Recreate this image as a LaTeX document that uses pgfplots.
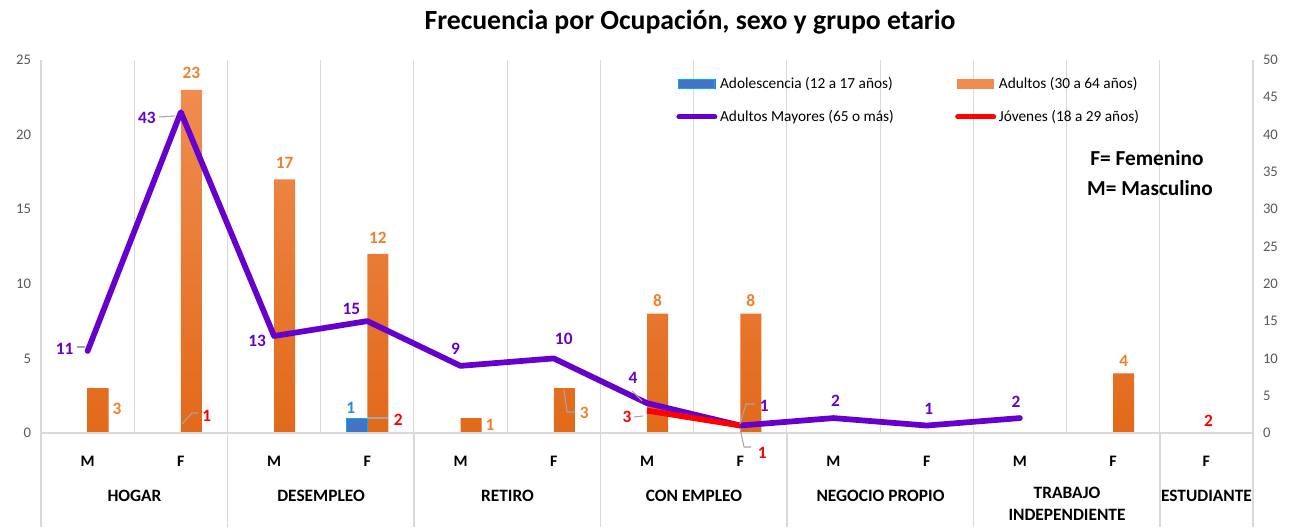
\documentclass[border=0pt]{standalone}
\usepackage{pgfplots}
\pgfplotsset{compat=1.18}
\usepackage{pgfplotstable}
\usepackage{fontspec}
\setmainfont{Carlito}
\definecolor{orTop}{HTML}{F08C50}
\definecolor{orBot}{HTML}{E2691A}
\definecolor{orLab}{HTML}{F08030}
\definecolor{blFill}{HTML}{4472C4}
\definecolor{blEdge}{HTML}{00B0F0}
\definecolor{blLab}{HTML}{1E90DC}
\definecolor{purp}{HTML}{6600CC}
\definecolor{redl}{HTML}{FF0000}
\definecolor{tickgray}{HTML}{595959}
\definecolor{gridc}{HTML}{D9D9D9}
\definecolor{leader}{HTML}{A6A6A6}

\pgfplotstableread{
x y dx dy
0 3 29.5 21
1 23 10.5 -17
2 17 10.5 -16
3 12 10.5 -16
4 1 29.5 7
5 3 30.5 25
6 8 10.5 -13
7 8 10.5 -13
11 4 10.5 -12
}\adultos
\pgfplotstableread{
x y dx dy
3 1 -16.5 -10
}\adolesc
\pgfplotstableread{
x y dx dy
0 11 -23 -2
1 43 -34 6
2 13 -17 5
3 15 -16 -12
4 9 -5 -17
5 10 10 -20
6 4 -14 -25
7 1 24 -20
8 2 2 -17
9 1 2 -17
10 2 -4 -16
}\mayores
\pgfplotstableread{
x y dx dy
1 1 26 -10
2 nan 0 0
3 2 31 2
4 nan 0 0
6 3 -20 6
7 1 22 27
8 nan 0 0
12 2 2 3
}\jovenes

\pgfplotsset{
  lbl/.style={
    visualization depends on={\thisrow{dx} \as \dx},
    visualization depends on={\thisrow{dy} \as \dy},
    nodes near coords,
    every node near coord/.append style={anchor=center, inner sep=0pt,
      xshift={\dx*0.75pt}, yshift={-\dy*0.75pt},
      font=\bfseries\fontsize{13}{15}\selectfont},
  },
  base/.style={
    at={(30.75pt,-324.75pt)}, anchor=south west, scale only axis,
    width=909pt, height=279.75pt,
    xmin=-0.5, xmax=12.5,
    /pgf/number format/assume math mode=true,
    ticklabel style={font=\fontsize{11}{13}\selectfont, text=tickgray},
    major tick length=0pt, minor tick length=0pt,
    axis line style={draw=none},
    clip=false,
  },
}

\begin{document}
\begin{tikzpicture}
\begin{scope}[x=0.75pt,y=-0.75pt]
\path[use as bounding box] (0,0) rectangle (1292,527);
\end{scope}

\begin{axis}[base,
  ymin=0, ymax=25, ytick={0,5,...,25},
  xtick={0,...,12},
  xticklabels={M,F,M,F,M,F,M,F,M,F,M,F,F},
  xticklabel style={font=\bfseries\fontsize{12}{14}\selectfont, text=black, anchor=center, yshift=-21pt},
  minor xtick={-0.5,0.5,...,12.5},
  xminorgrids, minor grid style={gridc, line width=0.8pt},
  yticklabel style={xshift=-4pt},
]
\addplot[ybar, bar width=0.225, bar shift=0.113, draw=none,
  top color=orTop, bottom color=orBot,
  lbl, every node near coord/.append style={text=orLab}]
  table[x=x,y=y] {\adultos};
\addplot[ybar, bar width=0.225, bar shift=-0.113, fill=blFill, draw=blEdge, line width=0.8pt,
  lbl, every node near coord/.append style={text=blLab}]
  table[x=x,y=y] {\adolesc};
\end{axis}

\begin{axis}[base,
  ymin=0, ymax=50, ytick={0,5,...,50},
  axis y line*=right, hide x axis,
  yticklabel style={xshift=4pt},
  unbounded coords=jump,
  legend columns=2,
  legend cell align=left,
  legend style={at={(rel axis cs:0.524,0.962)}, anchor=north west, draw=none, fill=none,
    inner sep=0pt, font=\fontsize{11.5}{13}\selectfont,
    /tikz/every even column/.append style={column sep=44pt},
    row sep=11pt},
]
\addlegendimage{legend image code/.code={\fill[blFill] (0pt,-3.5pt) rectangle (27pt,3.5pt); \draw[blEdge, line width=0.7pt] (0pt,-3.5pt) rectangle (27pt,3.5pt);}}
\addlegendentry{Adolescencia (12 a 17 años)}
\addlegendimage{legend image code/.code={\fill[orTop] (0pt,-3.5pt) rectangle (27pt,3.5pt);}}
\addlegendentry{Adultos (30 a 64 años)}
\addplot[purp, line width=4.3pt, line join=round, line cap=round, no markers,
  lbl, every node near coord/.append style={text=purp},
  legend image code/.code={\draw[purp, line width=3.8pt, line cap=round] (0pt,0pt) -- (27pt,0pt);}]
  table[x=x,y=y] {\mayores};
\addlegendentry{Adultos Mayores (65 o más)}
\addplot[redl, line width=4.3pt, line join=round, no markers,
  lbl, every node near coord/.append style={text=redl},
  legend image code/.code={\draw[redl, line width=3.8pt, line cap=round] (0pt,0pt) -- (27pt,0pt);}]
  table[x=x,y=y] {\jovenes};
\addlegendentry{Jóvenes (18 a 29 años)}
\end{axis}

\begin{scope}[x=0.75pt,y=-0.75pt]
\draw[gridc, line width=0.8pt] (41,433) -- (1253,433);
\foreach \bx in {41,227.5,414,600.5,787,973.5,1160,1253}
  \draw[gridc, line width=0.8pt] (\bx,433) -- (\bx,527);
% leader lines of data labels
\begin{scope}[leader, line width=0.8pt]
\draw (77,347) -- (85,347);
\draw (159,117) -- (175,116);
\draw (182,424) -- (192,413) -- (198,413);
\draw (367,418) -- (388,418);
\draw (564,390) -- (567,412) -- (575,412);
\draw (632,391) -- (642,401);
\draw (634,417) -- (643,416);
\draw (740,424) -- (746,404) -- (755,404);
\draw (740,428) -- (744,447) -- (751,447);
\end{scope}
\begin{scope}[font=\bfseries\fontsize{13}{15}\selectfont]
\node at (134.5,496) {HOGAR};
\node at (321,496) {DESEMPLEO};
\node at (507.5,496) {RETIRO};
\node at (694,496) {CON EMPLEO};
\node at (880.5,496) {NEGOCIO PROPIO};
\node[anchor=north, align=center, inner sep=0pt, font=\bfseries\fontsize{13}{16.5}\selectfont] at (1067,487) {TRABAJO\\INDEPENDIENTE};
\node at (1206.5,496) {ESTUDIANTE};
\end{scope}
\node[font=\bfseries\fontsize{20.8}{24}\selectfont] at (690,22) {Frecuencia por Ocupación, sexo y grupo etario};
\node[font=\bfseries\fontsize{16}{19}\selectfont] at (1147,158) {F= Femenino};
\node[font=\bfseries\fontsize{16}{19}\selectfont] at (1150,188) {M= Masculino};
\end{scope}
\end{tikzpicture}
\end{document}
